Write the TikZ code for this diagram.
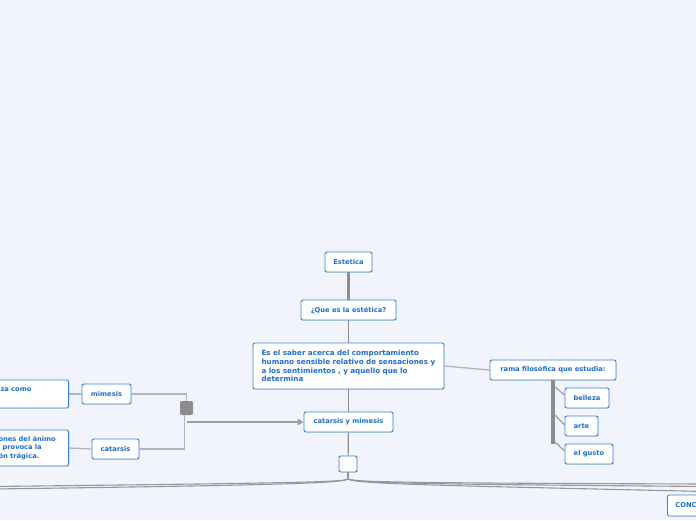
\documentclass[tikz,border=0pt]{standalone}
\usepackage{fontspec}
\setmainfont{DejaVu Sans}
\usetikzlibrary{arrows.meta,positioning,shadows}
\definecolor{canvasbg}{HTML}{F1F4FC}
\definecolor{topicblue}{HTML}{3483D9}
\definecolor{topictext}{HTML}{1C6FD1}
\definecolor{linkgrey}{HTML}{8C8C8C}
\definecolor{softgrey}{HTML}{B4B4B4}

\begin{document}
\begin{tikzpicture}[
    x=1pt, y=-1pt,
    topic/.style={rectangle, draw=topicblue, line width=0.9pt, fill=white, rounded corners=2pt, text=topictext, font=\bfseries\fontsize{6.7}{8.7}\selectfont, inner xsep=4pt, minimum height=20pt, drop shadow={opacity=0.18, shadow xshift=0.7pt, shadow yshift=-0.9pt}},
    junction/.style={rectangle, rounded corners=2pt, minimum width=13pt, minimum height=14pt, inner sep=0pt},
    trunk/.style={draw=linkgrey, line width=1.2pt},
    thicktrunk/.style={draw=linkgrey, line width=3pt},
    twig/.style={draw=softgrey, line width=1.3pt},
    flow/.style={draw=linkgrey!85, line width=1.6pt, -{Triangle[length=6pt, width=6.5pt]}},
    bundle/.style={draw=linkgrey!90, line width=1.1pt}
]
\fill[canvasbg] (0,0) rectangle (696,520);
\useasboundingbox (0,0) rectangle (696,520);

% Central column
\node[topic, minimum width=47pt] (estetica) at (348.5,262) {Estetica};
\node[topic, minimum width=95pt] (quees) at (348.5,310) {¿Que es la estética?};
\node[topic, inner xsep=8.5pt, text width=174pt, align=left, minimum height=46pt, font=\bfseries\fontsize{7.2}{8.8}\selectfont] (saber) at (348.5,366)
    {Es el saber acerca del comportamiento\\humano sensible relativo de sensaciones y\\a los sentimientos , y aquello que lo\\determina};
\node[topic, minimum width=89pt] (catmim) at (348.5,422) {catarsis y mimesis};
\node[topic, fill=white, minimum width=18pt, minimum height=16pt, inner sep=0pt] (hub) at (348,464) {};

% Right branch
\node[topic, minimum width=126pt] (rama) at (553,370) {rama filosófica que estudia:};
\node[topic, minimum width=44pt] (belleza) at (587,398) {belleza};
\node[topic, minimum width=33pt] (arte) at (581.5,426) {arte};
\node[topic, minimum width=48pt] (gusto) at (589,454) {el gusto};

% Left branch
\node[junction, fill=linkgrey] (junc) at (186.5,408) {};
\node[topic, minimum width=49pt] (mimesis) at (106.5,394) {mimesis};
\node[topic, minimum width=47pt] (catarsis) at (115.5,449) {catarsis};
\node[topic, inner xsep=8pt, anchor=east, text width=60pt, align=left, minimum height=28pt] (naturaleza) at (69,394)
    {za como\\\mbox{}};
\node[topic, inner xsep=8pt, anchor=east, text width=62pt, align=left, minimum height=36pt] (animo) at (69,448)
    {ones del ánimo\\\hspace*{4pt}provoca la\\ón trágica.};

% Bottom
\node[topic, inner xsep=8pt, anchor=west, text width=60pt, align=left, minimum height=21pt] (conc) at (667,505.5) {CONC};

\coordinate (fork) at (348,479);
\coordinate (barend) at (553,444);
\coordinate (twigA) at (555,387);
\coordinate (twigB) at (555,415);
\coordinate (twigC) at (555,442);
\coordinate (westA) at (-8,486.5);
\coordinate (westB) at (-8,489);
\coordinate (eastA) at (706,484);
\coordinate (eastB) at (706,486.5);
\coordinate (eastC) at (706,491.5);

\draw[thicktrunk] (estetica) -- (quees);
\draw[trunk] (quees) -- (saber);
\draw[trunk] (saber) -- (catmim);
\draw[trunk] (catmim) -- (hub);
\draw[twig] (saber.east) -- (rama.west);

\draw[draw=linkgrey, line width=4pt] (rama.south) -- (barend);
\draw[twig, draw=linkgrey!80] (twigA) -- ([yshift=3pt]belleza.west);
\draw[twig, draw=linkgrey!80] (twigB) -- ([yshift=1pt]arte.west);
\draw[twig, draw=linkgrey!80] (twigC) -- ([yshift=3pt]gusto.west);

\draw[twig] (naturaleza.east) -- (mimesis.west);
\draw[twig] (animo.east) -- (catarsis.west);
\draw[twig] (mimesis.east) -| (junc.north);
\draw[twig] (catarsis.east) -| ([xshift=-2pt]junc.south);
\draw[flow] (junc.south |- catmim.west) -- (catmim.west);

\draw[bundle] (hub.south) -- (fork);
\draw[bundle] (fork) .. controls (344,482) and (300,483) .. (westA);
\draw[bundle] (fork) .. controls (342,483) and (290,485) .. (westB);
\draw[bundle] (fork) .. controls (354,482) and (400,483) .. (eastA);
\draw[bundle] (fork) .. controls (356,483) and (410,484) .. (eastB);
\draw[bundle] (fork) .. controls (358,484) and (420,485) .. (eastC);

\end{tikzpicture}
\end{document}
